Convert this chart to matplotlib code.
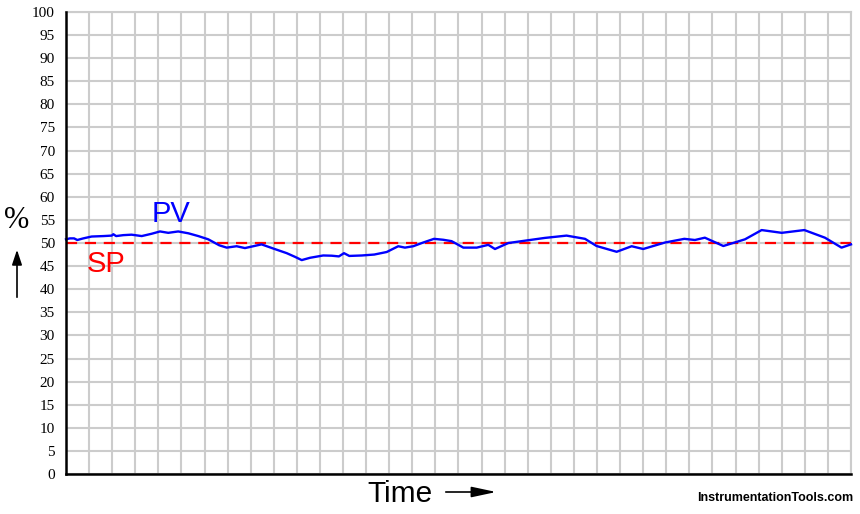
import matplotlib
matplotlib.use("Agg")
import matplotlib.pyplot as plt
import matplotlib.patches as mpatches
import numpy as np

# Data
pv_time = [0.0, 0.17, 0.35, 0.49, 0.75, 1.11, 1.62, 1.98, 2.05, 2.17, 2.48, 2.84, 3.28, 3.71,
           4.07, 4.43, 4.86, 5.30, 5.73, 6.16, 6.64, 6.96, 7.39, 7.75, 8.11, 8.47, 8.98, 9.56,
           9.92, 10.21, 10.57, 11.14, 11.51, 11.82, 12.04, 12.27, 12.81, 13.35, 13.89, 14.39,
           14.68, 15.04, 15.47, 15.94, 16.34, 16.70, 17.21, 17.79, 18.29, 18.58, 19.16, 19.88,
           20.74, 21.68, 22.48, 22.98, 23.85, 24.50, 25.00, 25.94, 26.78, 27.24, 27.67, 28.47,
           29.41, 30.13, 31.00, 31.98, 32.87, 33.59, 34.0]
pv_values = [50.8, 51.0, 51.0, 50.65, 51.0, 51.4, 51.5, 51.6, 51.9, 51.5, 51.7, 51.8, 51.5, 52.0,
             52.5, 52.2, 52.5, 52.1, 51.5, 50.8, 49.5, 49.0, 49.3, 48.9, 49.3, 49.7, 48.8, 47.8,
             47.0, 46.3, 46.8, 47.3, 47.25, 47.1, 47.8, 47.2, 47.3, 47.5, 48.05, 49.3,
             49.0, 49.3, 50.1, 50.9, 50.7, 50.4, 49.0, 49.0, 49.6, 48.7, 50.0, 50.5,
             51.1, 51.6, 50.9, 49.35, 48.1, 49.3, 48.7, 50.1, 50.9, 50.65, 51.15, 49.35,
             50.8, 52.8, 52.2, 52.8, 51.15, 49.0, 49.7]
sp_time = [0, 34]
sp_values = [50, 50]
y_ticks = list(range(0, 101, 5))

fig = plt.figure(figsize=(8.6, 5.14), dpi=100)
ax = fig.add_axes([66/860, 40/514, 785/860, 462/514])

ax.set_xlim(0, 34)
ax.set_ylim(0, 100)
ax.set_xticks(np.arange(0, 35, 1))
ax.set_yticks(y_ticks)
ax.set_xticklabels([])
ax.set_yticklabels([str(v) for v in y_ticks], family="Liberation Serif", fontsize=11)
ax.tick_params(axis="both", length=0, pad=8)
ax.grid(True, color="#cccccc", linewidth=1.5)
ax.set_axisbelow(True)

for s in ["top", "right"]:
    ax.spines[s].set_color("#cccccc")
    ax.spines[s].set_linewidth(1.5)
for s in ["left", "bottom"]:
    ax.spines[s].set_color("black")
    ax.spines[s].set_linewidth(1.8)
    ax.spines[s].set_zorder(5)

ax.plot(sp_time, sp_values, color="#ff0000", linewidth=1.6, linestyle=(0, (5, 3.5)), zorder=3)
ax.plot(pv_time, pv_values, color="#0000ff", linewidth=1.7, zorder=4, clip_on=False)

fig.text(152/860, 1 - 222/514, "PV", color="#0000ff", family="Liberation Sans",
         fontsize=21, ha="left", va="baseline")
fig.text(87/860, 1 - 272/514, "SP", color="#ff0000", family="Liberation Sans",
         fontsize=21, ha="left", va="baseline")

fig.text(17/860, 1 - 220/514, "%", color="black", family="Liberation Serif",
         fontsize=22, ha="center", va="center")
fig.patches.append(mpatches.FancyArrowPatch(
    (17/860, 1 - 300/514), (17/860, 1 - 247/514), transform=fig.transFigure,
    arrowstyle="-|>,head_length=9,head_width=3", color="black", linewidth=1.2,
    mutation_scale=1))

fig.text(400/860, 1 - 494/514, "Time", color="black", family="Liberation Sans",
         fontsize=21.5, ha="center", va="center")
fig.patches.append(mpatches.FancyArrowPatch(
    (443/860, 1 - 492/514), (499/860, 1 - 492/514), transform=fig.transFigure,
    arrowstyle="-|>,head_length=15,head_width=3.2", color="black", linewidth=1.2,
    mutation_scale=1))

fig.text(853/860, 1 - 498/514, "InstrumentationTools.com", color="black",
         family="Liberation Sans", fontweight="bold", fontsize=9, ha="right", va="center")

fig.savefig("out.png", dpi=100)
